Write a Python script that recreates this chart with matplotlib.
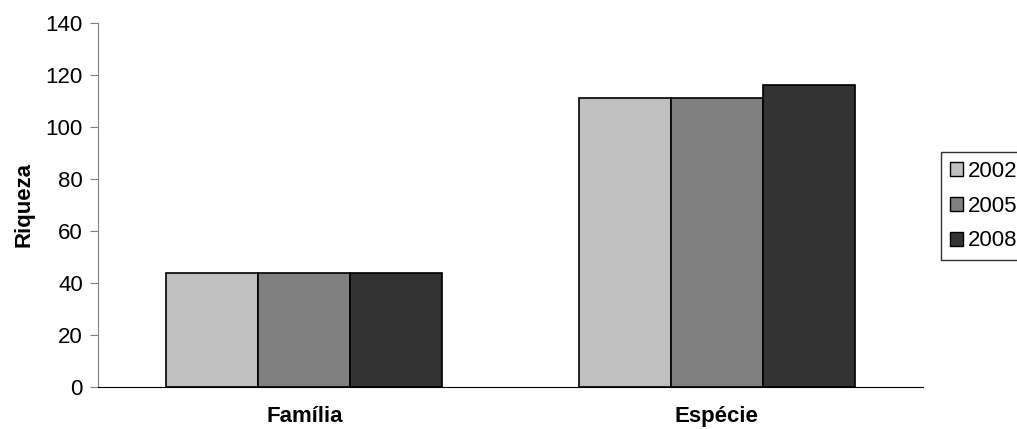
import numpy as np
import matplotlib.pyplot as plt
from matplotlib.patches import Patch

plt.rcParams['font.family'] = ['Liberation Sans', 'DejaVu Sans']

categorias = ['Família', 'Espécie']
anos = ['2002', '2005', '2008']
valores = [[44, 111], [44, 111], [44, 116]]
cores = ['#c0c0c0', '#808080', '#333333']

fig = plt.figure(figsize=(10.17, 4.29), dpi=100)
ax = fig.add_axes([0.0964, 0.0979, 0.8112, 0.8485])

x = np.arange(len(categorias))
w = 0.223
for i in range(3):
    ax.bar(x + (i - 1) * w, valores[i], w, color=cores[i], edgecolor='black', linewidth=1.2)

ax.set_xlim(-0.5, 1.5)
ax.set_ylim(0, 140)
ax.set_yticks(range(0, 141, 20))
ax.set_xticks(x)
ax.set_xticklabels(categorias, fontsize=16, fontweight='bold')
ax.tick_params(axis='x', length=0, pad=14)
ax.tick_params(axis='y', labelsize=16, direction='out', length=6, color='#808080', pad=5)
ax.set_ylabel('Riqueza', fontsize=16, fontweight='bold', labelpad=8)
ax.spines['top'].set_visible(False)
ax.spines['right'].set_visible(False)
ax.spines['left'].set_color('#808080')
ax.spines['bottom'].set_color('black')

handles = [Patch(facecolor=cores[i], edgecolor='black', label=anos[i]) for i in range(3)]
leg = fig.legend(handles=handles, loc='upper left', bbox_to_anchor=(0.9253, 0.6457),
                 borderaxespad=0, fontsize=16, frameon=True, fancybox=False, edgecolor='black',
                 handlelength=0.6, handleheight=0.6, handletextpad=0.2,
                 labelspacing=0.62, borderpad=0.4)
leg.get_frame().set_linewidth(1.0)

fig.savefig('out.png', dpi=100)
